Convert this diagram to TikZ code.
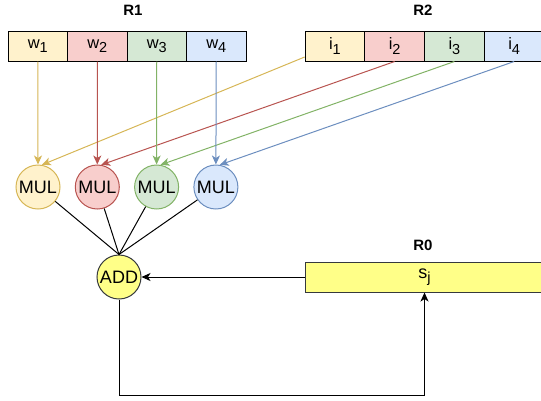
\documentclass[tikz,border=0pt]{standalone}
\usepackage{fontspec}
\setmainfont{Liberation Sans}
\usetikzlibrary{calc,positioning,arrows.meta}
\definecolor{fylw}{HTML}{FFF2CC}\definecolor{dylw}{HTML}{D6B656}
\definecolor{fred}{HTML}{F8CECC}\definecolor{dred}{HTML}{B85450}
\definecolor{fgrn}{HTML}{D5E8D4}\definecolor{dgrn}{HTML}{82B366}
\definecolor{fblu}{HTML}{DAE8FC}\definecolor{dblu}{HTML}{6C8EBF}
\definecolor{fadd}{HTML}{FFFF88}\definecolor{dadd}{HTML}{36393D}
\newcommand\sbx[1]{\raisebox{-4.5pt}{\fontsize{14.5}{16}\selectfont #1}}
\tikzset{
  cell/.style={draw=black, line width=1pt, minimum width=59.5pt, minimum height=30pt, inner sep=0pt, font=\fontsize{16.5}{19}\selectfont},
  op/.style={circle, draw, line width=1pt, minimum size=44pt, inner sep=0pt, font=\fontsize{18}{20}\selectfont},
  reglbl/.style={font=\bfseries\fontsize{15}{18}\selectfont},
  arr/.style={-{Stealth[length=9pt,width=8pt,inset=2.5pt]}, line width=1pt}
}

\begin{document}
\begin{tikzpicture}[x=1pt,y=-1pt]
		%%%%% START %%%%%
		\useasboundingbox (0,0) rectangle (541,400);
		
		\node[reglbl] (r1lbl) at (133,10) {R1};
		\node[reglbl] (r2lbl) at (423,10) {R2};
		\node[reglbl] (r0lbl) at (423,245) {R0};
		
		\foreach \i/\c in {1/ylw,2/red,3/grn,4/blu} {
			\node[cell, fill=f\c] (w\i) at ({8+59.5*(\i-0.5)},46) {w\sbx{\i}};
			\node[cell, fill=f\c] (i\i) at ({305+59.75*(\i-0.5)},46) {i\sbx{\i}};
			\node[op, fill=f\c, draw=d\c] (m\i) at ({38+59.3*(\i-1)},187) {MUL};
		}
		
		\node[op, fill=fadd, draw=dadd] (add) at (119,277) {ADD};
		\node[cell, fill=fadd, draw=dadd, minimum width=239pt, font=\fontsize{18}{20}\selectfont] (r0) at (424.5,277) {s\sbx{j}};
		\coordinate (fb) at (424.5,395);
		
		\foreach \i/\c/\a in {1/ylw/200,2/red/south,3/grn/south,4/blu/south} {
			\draw[arr, d\c] (w\i.south) -- (m\i.north);
			\draw[arr, d\c] (i\i.\a) -- (m\i.80);
			\draw[line width=1pt] (m\i) -- (add.north);
		}
		
		\draw[arr] (r0) -- (add);
		\draw[arr] (add) |- (fb) -- (r0);
		%%%%% END %%%%%
\end{tikzpicture}
\end{document}
